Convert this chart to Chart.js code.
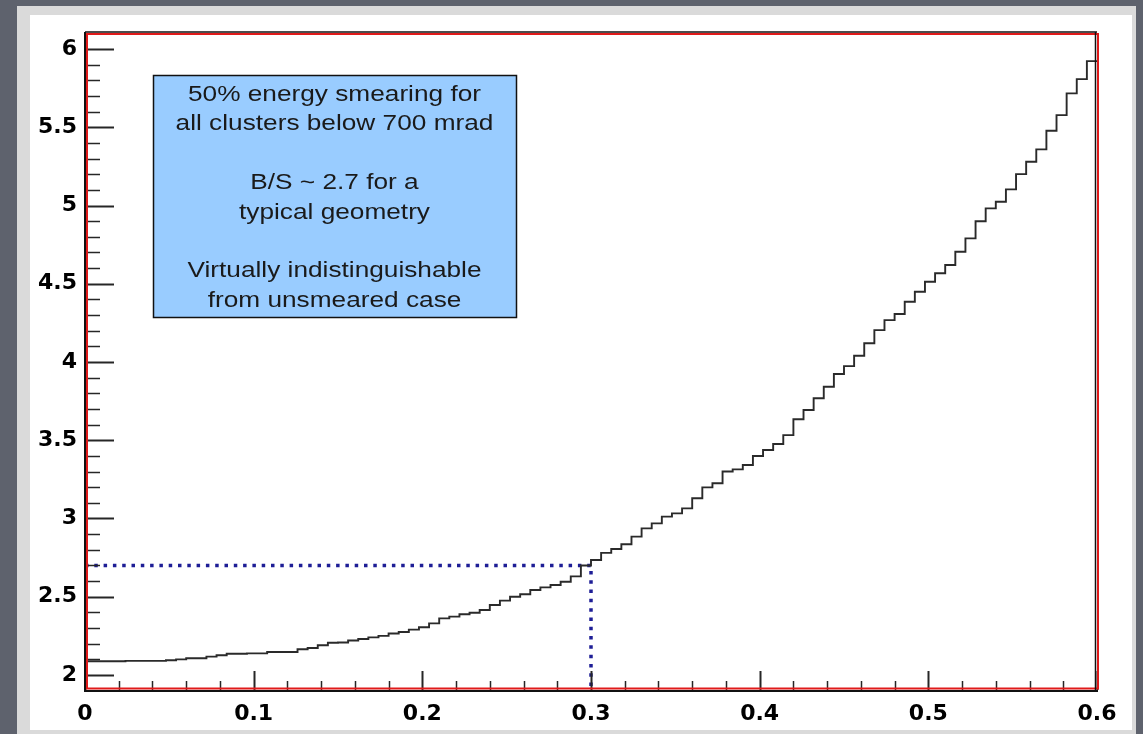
<!DOCTYPE html>
<html><head><meta charset="utf-8">
<script src="https://cdn.jsdelivr.net/npm/chart.js@4/dist/chart.umd.min.js"></script>
<style>
html,body{margin:0;padding:0;background:#5e626d;width:1143px;height:734px;overflow:hidden;}
#outer{position:absolute;left:17px;top:6px;width:1119px;height:740px;background:#dadada;}
#inner{position:absolute;left:30px;top:15px;width:1102px;height:715px;background:#ffffff;}
canvas{position:absolute;left:0;top:0;}
</style></head><body>
<div id="outer"></div><div id="inner"></div>
<canvas id="c" width="1143" height="734"></canvas>
<script>
// ---- data ----
const binLow = 0, binHigh = 0.6;
const binValues = [
  2.088, 2.088, 2.088, 2.088, 2.090, 2.090, 2.090, 2.090, 2.094, 2.100,
  2.107, 2.107, 2.117, 2.126, 2.136, 2.136, 2.138, 2.138, 2.147, 2.147,
  2.147, 2.164, 2.172, 2.190, 2.206, 2.208, 2.220, 2.230, 2.240, 2.250,
  2.265, 2.275, 2.290, 2.305, 2.330, 2.362, 2.373, 2.388, 2.398, 2.415,
  2.447, 2.475, 2.500, 2.516, 2.543, 2.560, 2.575, 2.596, 2.630, 2.700,
  2.735, 2.780, 2.805, 2.835, 2.884, 2.937, 2.969, 3.012, 3.033, 3.065,
  3.129, 3.199, 3.225, 3.300, 3.314, 3.342, 3.399, 3.438, 3.476, 3.533,
  3.634, 3.693, 3.768, 3.842, 3.923, 3.974, 4.040, 4.120, 4.204, 4.268,
  4.307, 4.385, 4.449, 4.513, 4.567, 4.620, 4.705, 4.790, 4.900, 4.982,
  5.024, 5.103, 5.201, 5.280, 5.359, 5.478, 5.578, 5.717, 5.808, 5.923
];
const xMin = 0, xMax = 0.6, xStep = 0.1, xMinorStep = 0.02;
const yMin = 1.904, yMax = 6.109, yStep = 0.5, yMinorStep = 0.1;
const cutX = [0, 0.3, 0.3];
const cutY = [2.7, 2.7, yMin];
const noteLines = [
  "50% energy smearing for", "all clusters below 700 mrad", "",
  "B/S ~ 2.7 for a", "typical geometry", "",
  "Virtually indistinguishable", "from unsmeared case"
];

// ---- build datasets ----
const binWidth = (binHigh - binLow) / binValues.length;
const histPoints = binValues.map((v, i) => ({x: binLow + i * binWidth, y: v}));
histPoints.push({x: binHigh, y: binValues[binValues.length - 1]});
const cutPoints = cutX.map((v, i) => ({x: v, y: cutY[i]}));

const rootPlugin = {
  id: 'rootStyle',
  afterDatasetsDraw(chart) {
    const {ctx, chartArea: a, scales: {x, y}} = chart;
    ctx.save();
    // tick marks (inside)
    ctx.strokeStyle = '#262626';
    const nyLo = Math.ceil(yMin / yMinorStep - 1e-6), nyHi = Math.floor(yMax / yMinorStep + 1e-6);
    for (let k = nyLo; k <= nyHi; k++) {
      const v = k * yMinorStep;
      const py = Math.round(y.getPixelForValue(v)) + 0.5;
      if (py < a.top + 2 || py > a.bottom - 2) continue;
      const major = Math.abs(v / yStep - Math.round(v / yStep)) < 1e-6;
      ctx.lineWidth = major ? 2 : 1.5;
      ctx.beginPath(); ctx.moveTo(a.left, py); ctx.lineTo(a.left + (major ? 29 : 15), py); ctx.stroke();
    }
    const nxHi = Math.round((xMax - xMin) / xMinorStep);
    for (let k = 0; k <= nxHi; k++) {
      const v = xMin + k * xMinorStep;
      const px = Math.round(x.getPixelForValue(v)) + 0.5;
      const major = k % Math.round(xStep / xMinorStep) === 0;
      ctx.lineWidth = major ? 2 : 1.5;
      ctx.beginPath(); ctx.moveTo(px, a.bottom); ctx.lineTo(px, a.bottom - (major ? 19 : 9)); ctx.stroke();
    }
    // red frame
    ctx.strokeStyle = '#e01a1a';
    ctx.lineWidth = 2;
    ctx.strokeRect(a.left + 2, a.top + 2, a.right - a.left - 1, a.bottom - a.top - 3.5);
    // black axis lines
    ctx.strokeStyle = '#111';
    ctx.lineWidth = 2;
    ctx.beginPath(); ctx.moveTo(a.left, a.top); ctx.lineTo(a.left, a.bottom + 2); ctx.stroke();
    ctx.beginPath(); ctx.moveTo(a.left - 1, a.bottom + 1); ctx.lineTo(a.right + 1, a.bottom + 1); ctx.stroke();
    ctx.lineWidth = 1.5;
    ctx.beginPath(); ctx.moveTo(a.left, a.top); ctx.lineTo(a.right, a.top); ctx.stroke();
    ctx.beginPath(); ctx.moveTo(a.right - 1.5, a.top); ctx.lineTo(a.right - 1.5, a.bottom); ctx.stroke();
    // note box
    const bx = 153, by = 75, bw = 363, bh = 242;
    ctx.fillStyle = '#99ccff';
    ctx.fillRect(bx, by, bw, bh);
    ctx.strokeStyle = '#111';
    ctx.lineWidth = 1.5;
    ctx.strokeRect(bx + 0.5, by + 0.5, bw, bh);
    ctx.fillStyle = '#1a1a1a';
    ctx.font = '21.5px "Liberation Sans", Arial, sans-serif';
    ctx.textAlign = 'center';
    ctx.textBaseline = 'middle';
    const cx = bx + bw / 2, sx = 1.22;
    noteLines.forEach((t, i) => {
      if (!t) return;
      ctx.save();
      ctx.translate(cx, 95 + i * 29.4);
      ctx.scale(sx, 1);
      ctx.fillText(t, 0, 0);
      ctx.restore();
    });
    ctx.restore();
  }
};

const tickFont = {family: '"DejaVu Sans", sans-serif', weight: 'bold', size: 22};

new Chart(document.getElementById('c'), {
  type: 'line',
  data: {
    datasets: [
      {
        label: 'hist',
        data: histPoints,
        stepped: 'before',
        borderColor: '#2a2a2a',
        borderWidth: 1.9,
        pointRadius: 0,
        fill: false
      },
      {
        label: 'cut',
        data: cutPoints,
        borderColor: '#1e1e96',
        borderWidth: 3.5,
        borderDash: [3.5, 5.8],
        borderCapStyle: 'butt',
        pointRadius: 0,
        fill: false
      }
    ]
  },
  options: {
    responsive: false,
    animation: false,
    events: [],
    layout: {padding: {top: 32, right: 46, bottom: 0, left: 0}},
    plugins: {legend: {display: false}, tooltip: {enabled: false}},
    scales: {
      x: {
        type: 'linear', min: xMin, max: xMax,
        grid: {display: false, drawTicks: false},
        border: {display: false},
        ticks: {
          stepSize: xStep, includeBounds: false, autoSkip: false, maxRotation: 0,
          color: '#000', font: tickFont, padding: 11,
          callback: v => String(+v.toFixed(1))
        },
        afterFit: s => { s.height = 44; }
      },
      y: {
        type: 'linear', min: yMin, max: yMax,
        grid: {display: false, drawTicks: false},
        border: {display: false},
        ticks: {
          stepSize: yStep, includeBounds: false, autoSkip: false,
          color: '#000', font: tickFont, padding: 8,
          callback: v => String(+v.toFixed(1))
        },
        afterFit: s => { s.width = 85; }
      }
    }
  },
  plugins: [rootPlugin]
});
</script>
</body></html>
